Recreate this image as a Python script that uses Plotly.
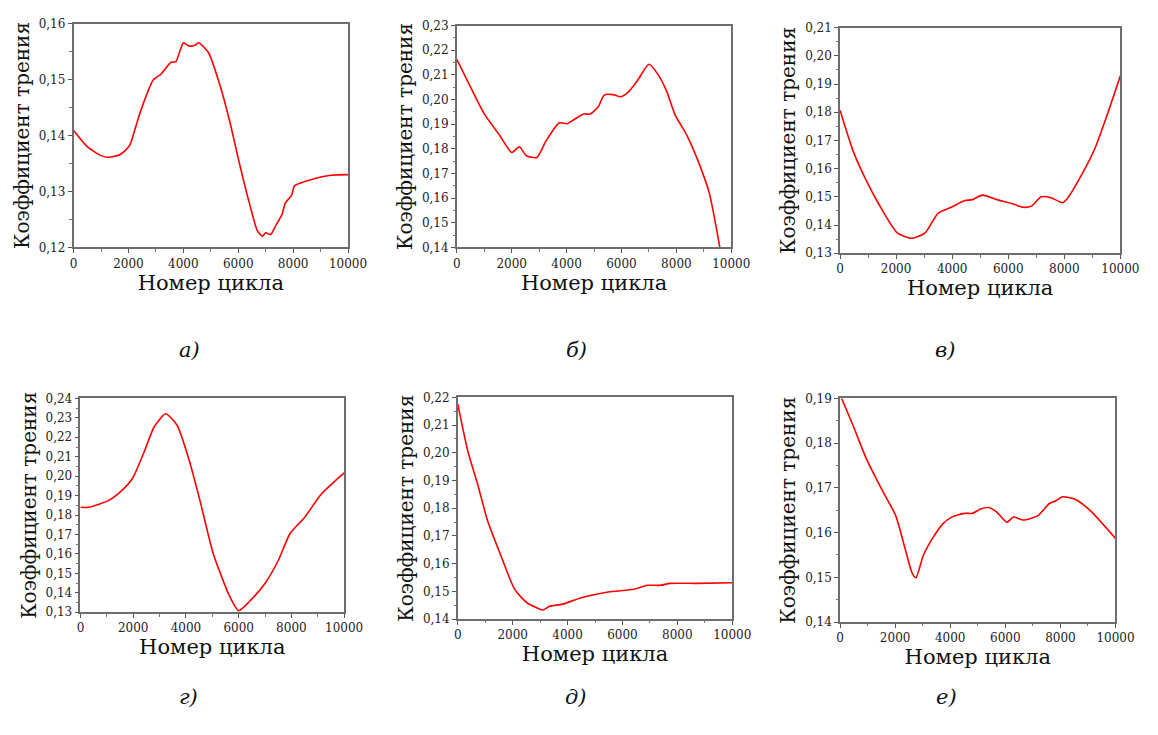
import plotly.graph_objects as go

W, H = 1158, 735

# ---- data ----
a_x = [0, 500, 1000, 1286, 1700, 2036, 2357, 2600, 2893, 3190, 3548, 3726, 4000, 4200, 4440, 4560, 4917, 5333, 5690, 6048, 6405, 6702, 6881, 7000, 7179, 7357, 7595, 7714, 7952, 8048, 8786, 9381, 10000]
a_y = [0.1409, 0.1380, 0.1364, 0.1361, 0.1366, 0.1382, 0.1431, 0.1465, 0.1499, 0.1510, 0.1531, 0.1532, 0.1566, 0.1560, 0.1562, 0.1566, 0.1548, 0.1490, 0.1425, 0.1349, 0.1279, 0.1229, 0.1220, 0.1226, 0.1223, 0.1238, 0.1259, 0.1279, 0.1294, 0.1310, 0.1323, 0.1329, 0.1330]

b_x = [0, 500, 988, 1583, 2000, 2274, 2536, 2917, 3250, 3726, 4024, 4262, 4619, 4857, 5155, 5369, 5690, 5964, 6226, 6583, 7000, 7357, 7655, 7952, 8369, 8786, 9202, 9583]
b_y = [0.2163, 0.2050, 0.1944, 0.1851, 0.1785, 0.1808, 0.1772, 0.1765, 0.1832, 0.1905, 0.1902, 0.1918, 0.1941, 0.1941, 0.1971, 0.2018, 0.2020, 0.2011, 0.2028, 0.2077, 0.2143, 0.2097, 0.2031, 0.1938, 0.1858, 0.1752, 0.1619, 0.1400]

c_x = [0, 467, 933, 1400, 2042, 2567, 3034, 3501, 3968, 4434, 4726, 5076, 5601, 6126, 6534, 6826, 7176, 7526, 7935, 8110, 8635, 9102, 9568, 10000]
c_y = [0.1807, 0.1662, 0.1558, 0.1471, 0.1372, 0.1353, 0.1372, 0.1442, 0.1463, 0.1486, 0.1490, 0.1506, 0.1490, 0.1476, 0.1463, 0.1467, 0.1500, 0.1497, 0.1479, 0.1494, 0.1581, 0.1674, 0.1802, 0.1929]

d_x = [0, 311, 1056, 1553, 1988, 2422, 2795, 3230, 3665, 4099, 4534, 5031, 5652, 6000, 6398, 7019, 7516, 7950, 8509, 9130, 10000]
d_y = [0.1840, 0.1840, 0.1874, 0.1924, 0.1992, 0.2127, 0.2253, 0.2321, 0.2262, 0.2093, 0.1874, 0.1604, 0.1384, 0.1308, 0.1354, 0.1452, 0.1570, 0.1705, 0.1789, 0.1907, 0.2017]

e_x = [0, 369, 725, 1082, 1558, 2069, 2509, 3104, 3341, 3817, 4530, 5482, 6433, 6909, 7384, 7741, 8692, 10000]
e_y = [0.2176, 0.2005, 0.1886, 0.1756, 0.1632, 0.1508, 0.1460, 0.1433, 0.1446, 0.1454, 0.1478, 0.1498, 0.1508, 0.1522, 0.1522, 0.1529, 0.1529, 0.1531]

f_x = [59, 475, 950, 1544, 2019, 2375, 2613, 2755, 3029, 3385, 3741, 4038, 4513, 4810, 5107, 5404, 5701, 6057, 6295, 6651, 7185, 7601, 7838, 8076, 8551, 9086, 10000]
f_y = [0.1900, 0.1839, 0.1766, 0.1693, 0.1638, 0.1561, 0.1510, 0.1499, 0.1550, 0.1590, 0.1620, 0.1634, 0.1643, 0.1643, 0.1653, 0.1656, 0.1645, 0.1623, 0.1635, 0.1628, 0.1638, 0.1665, 0.1671, 0.1680, 0.1674, 0.1649, 0.1587]

y_ranges = [(0.12, 0.16), (0.14, 0.23), (0.13, 0.21), (0.13, 0.24), (0.14, 0.22), (0.14, 0.19)]
captions = ["а)", "б)", "в)", "г)", "д)", "е)"]
x_title = "Номер цикла"
y_title = "Коэффициент трения"

series = [(a_x, a_y), (b_x, b_y), (c_x, c_y), (d_x, d_y), (e_x, e_y), (f_x, f_y)]

# plot-area pixel boxes (left, right, top, bottom)
boxes = [(71, 351, 17, 245), (462, 742, 19, 245), (853, 1139, 21, 251),
         (78, 347, 399, 617), (463, 743, 398, 624), (853, 1134, 399, 627)]
caption_pos = [(177, 350), (584, 350), (972, 350), (177, 718), (584, 718), (974, 718)]

fig = go.Figure()
font_family = "'DejaVu Serif', serif"

for i, ((xs, ys), (l, r, t, b), yr) in enumerate(zip(series, boxes, y_ranges)):
    n = "" if i == 0 else str(i + 1)
    fig.add_trace(go.Scatter(x=xs, y=ys, mode="lines", line=dict(color="#ff0000", width=1.6, shape="spline", smoothing=0.6),
                             xaxis="x" + n, yaxis="y" + n, showlegend=False, hoverinfo="skip"))
    axstyle = dict(showline=True, linecolor="#6e6e6e", linewidth=1.6, mirror=True, showgrid=False, zeroline=False,
                   ticks="outside", ticklen=4, tickwidth=1.2, tickcolor="#555",
                   tickfont=dict(family=font_family, size=12, color="#222"),
                   minor=dict(ticks="outside", ticklen=2.5, tickwidth=1, tickcolor="#777"))
    fig.layout["xaxis" + n] = dict(axstyle, domain=[l / W, r / W], anchor="y" + n, range=[0, 10000],
                                   tickvals=[0, 2000, 4000, 6000, 8000, 10000], ticktext=["0", "2000", "4000", "6000", "8000", "10000"],
                                   minor=dict(axstyle["minor"], dtick=1000),
                                   title=dict(text=x_title, font=dict(family=font_family, size=21, color="#111"), standoff=0))
    fig.layout["yaxis" + n] = dict(axstyle, domain=[1 - b / H, 1 - t / H], anchor="x" + n, range=list(yr),
                                   dtick=0.01, tickformat=".2f", tick0=0,
                                   minor=dict(axstyle["minor"], dtick=0.005),
                                   title=dict(text=y_title, font=dict(family=font_family, size=20, color="#111"), standoff=4))
    cx, cy = caption_pos[i]
    fig.add_annotation(text="<i>" + captions[i] + "</i>", x=cx / W, y=1 - cy / H, xref="paper", yref="paper",
                       showarrow=False, font=dict(family=font_family, size=21, color="#111"))

fig.update_layout(width=W, height=H, margin=dict(l=0, r=0, t=0, b=0), separators=", ",
                  font=dict(family=font_family), paper_bgcolor="white", plot_bgcolor="white")
fig.write_html("out.html")
